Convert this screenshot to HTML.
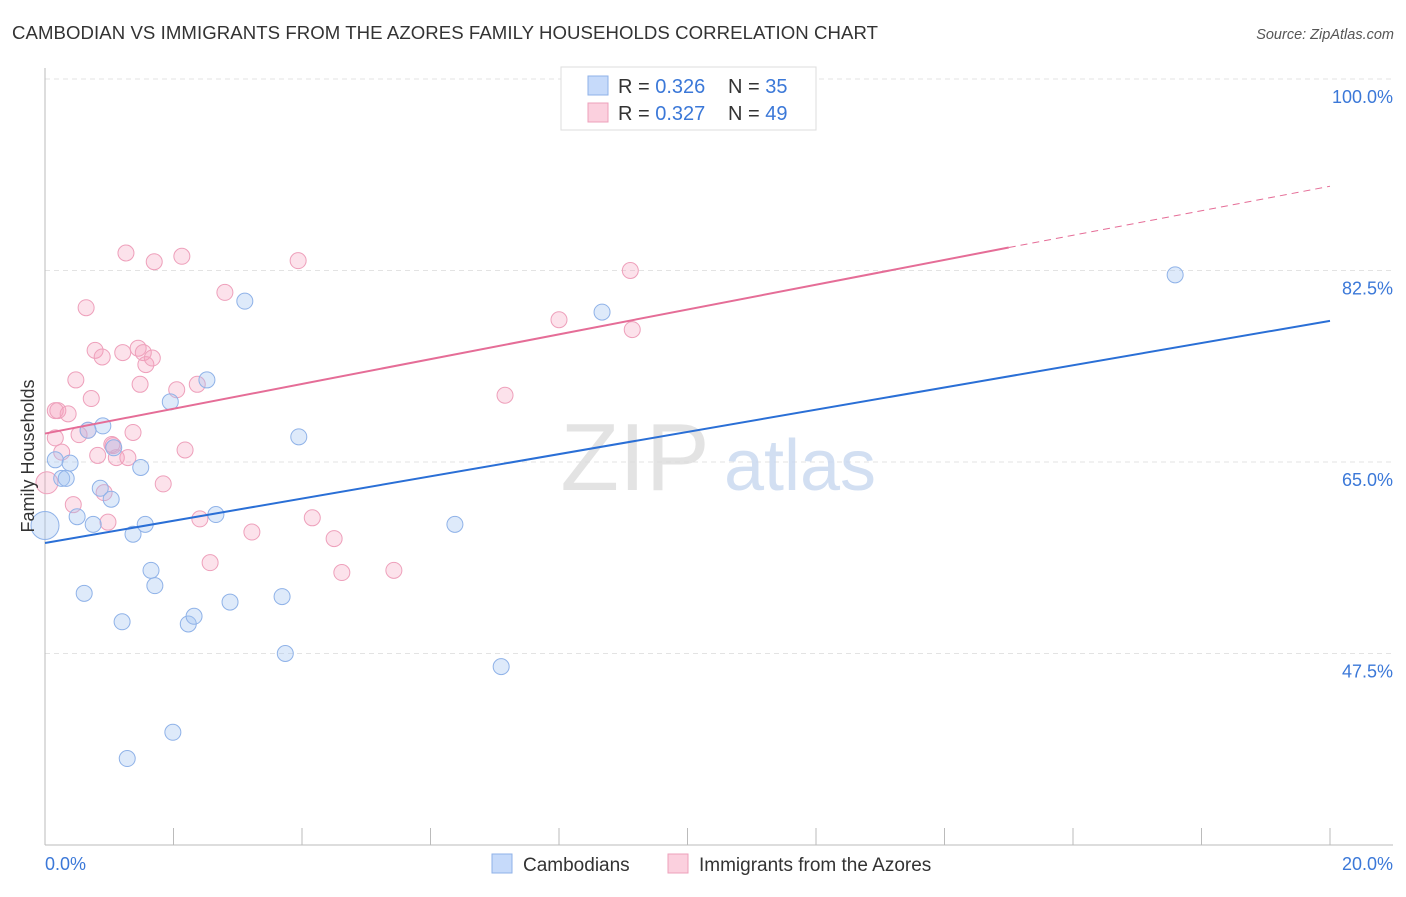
<!DOCTYPE html>
<html><head><meta charset="utf-8"><style>
body{margin:0;background:#fff;font-family:"Liberation Sans",sans-serif;}
svg text{font-family:"Liberation Sans",sans-serif;}
</style></head><body>
<svg id="chart" width="1406" height="892" viewBox="0 0 1406 892">
<text x="12" y="39" font-size="18.6" fill="#333" textLength="866">CAMBODIAN VS IMMIGRANTS FROM THE AZORES FAMILY HOUSEHOLDS CORRELATION CHART</text>
<text x="1394" y="39" font-size="14.5" fill="#555" font-style="italic" text-anchor="end">Source: ZipAtlas.com</text>
<g id="grid"></g>
<g>
<text x="635" y="490" font-size="96" fill="#ddd" font-family="Liberation Serif" text-anchor="middle" opacity="0.8">ZIP</text>
<text x="800" y="490" font-size="72" fill="#c8d8f0" text-anchor="middle" opacity="0.8">atlas</text>
</g>
<g id="points"></g>
<g id="lines"></g>
<text x="34" y="456" font-size="18" fill="#333" transform="rotate(-90 34 456)" text-anchor="middle">Family Households</text>
<text x="45" y="870" font-size="18" fill="#3b78d8">0.0%</text>
<text x="1393" y="870" font-size="18" fill="#3b78d8" text-anchor="end">20.0%</text>
<g>
<rect x="561" y="67" width="255" height="63" fill="#fff" stroke="#ddd"/>
<rect x="588" y="76" width="20" height="19" fill="#c6dafa" stroke="#8fb2e8"/>
<rect x="588" y="103" width="20" height="19" fill="#fbd0de" stroke="#eea0bb"/>
<text x="618" y="93" font-size="20" fill="#333">R = <tspan fill="#3b78d8">0.326</tspan></text>
<text x="728" y="93" font-size="20" fill="#333">N = <tspan fill="#3b78d8">35</tspan></text>
<text x="618" y="120" font-size="20" fill="#333">R = <tspan fill="#3b78d8">0.327</tspan></text>
<text x="728" y="120" font-size="20" fill="#333">N = <tspan fill="#3b78d8">49</tspan></text>
</g>
<g>
<rect x="492" y="854" width="20" height="19" fill="#c6dafa" stroke="#8fb2e8"/>
<text x="523" y="871" font-size="19" fill="#333">Cambodians</text>
<rect x="668" y="854" width="20" height="19" fill="#fbd0de" stroke="#eea0bb"/>
<text x="699" y="871" font-size="19" fill="#333">Immigrants from the Azores</text>
</g>
</svg>
<script>
const yTicks=[47.5,65.0,82.5,100.0];
const xTickVals=[0,2,4,6,8,10,12,14,16,18,20];
const blueX=[0.0,0.16,0.26,0.39,0.33,0.50,0.61,0.75,0.86,0.90,1.03,0.67,1.07,1.20,1.28,1.37,1.49,1.56,1.65,1.71,1.95,1.99,2.23,2.32,2.52,2.66,2.88,3.11,3.69,3.74,3.95,6.38,7.10,8.67,17.59];
const blueY=[59.2,65.2,63.5,64.9,63.5,60.0,53.0,59.3,62.6,68.3,61.6,67.9,66.3,50.4,37.9,58.4,64.5,59.3,55.1,53.7,70.5,40.3,50.2,50.9,72.5,60.2,52.2,79.7,52.7,47.5,67.3,59.3,46.3,78.7,82.1];
const pinkX=[0.03,0.16,0.16,0.20,0.26,0.36,0.44,0.48,0.53,0.64,0.67,0.72,0.78,0.82,0.89,0.92,0.98,1.06,1.11,1.21,1.26,1.29,1.37,1.48,1.45,1.53,1.57,1.67,1.70,1.84,2.05,2.13,2.18,2.37,2.41,2.57,2.80,3.22,3.94,4.16,4.50,4.62,5.43,7.16,8.00,9.11,9.14,11.05,1.04];
const pinkY=[63.1,69.7,67.2,69.7,65.9,69.4,61.1,72.5,67.5,79.1,67.9,70.8,75.2,65.6,74.6,62.2,59.5,66.5,65.4,75.0,84.1,65.4,67.7,72.1,75.4,75.0,73.9,74.5,83.3,63.0,71.6,83.8,66.1,72.1,59.8,55.8,80.5,58.6,83.4,59.9,58.0,54.9,55.1,71.1,78.0,82.5,77.1,99.9,66.6];
const blueLine=[57.6,77.9];
const pinkLine=[67.6,84.6,90.2];
const pinkLineX=[0,15,20];

const NS='http://www.w3.org/2000/svg';
const X0=45,X1=1330,Y0=845,YTOP=79;
const xs=v=>X0+(v/20)*(X1-X0);
const ys=v=>Y0-(v-30)/70*(Y0-YTOP);
function mk(tag,attrs,parent){const e=document.createElementNS(NS,tag);for(const k in attrs)e.setAttribute(k,attrs[k]);parent.appendChild(e);return e;}
const grid=document.getElementById('grid');
yTicks.forEach(t=>{
  const l=mk('line',{x1:X0,x2:1393,y1:ys(t),y2:ys(t),stroke:'#e3e3e3','stroke-dasharray':'5,4'},grid);
  
  
  const tx=mk('text',{x:1393,y:ys(t)+24,'font-size':18,fill:'#3b78d8','text-anchor':'end'},grid);
  tx.textContent=t.toFixed(1)+'%';
  
  
});
mk('line',{x1:X0,x2:X0,y1:68,y2:Y0,stroke:'#bbb'},grid);
mk('line',{x1:X0,x2:1393,y1:Y0,y2:Y0,stroke:'#bbb'},grid);
xTickVals.forEach(t=>{
  const l=mk('line',{x1:xs(t),x2:xs(t),y1:Y0,y2:Y0-17,stroke:'#bbb'},grid);
  
  
});
const pts=document.getElementById('points');
pinkX.forEach((v,i)=>{
  const c=mk('circle',{cx:xs(v),cy:ys(pinkY[i]),r:i==0?11:8,fill:'rgba(244,160,190,0.3)',stroke:'#eea0bb','stroke-width':1},pts);
  
  
});
blueX.forEach((v,i)=>{
  const c=mk('circle',{cx:xs(v),cy:ys(blueY[i]),r:i==0?14:8,fill:'rgba(160,195,240,0.35)',stroke:'#8fb2e8','stroke-width':1},pts);
  
  
});
const lines=document.getElementById('lines');
const bl=mk('line',{x1:xs(0),y1:ys(blueLine[0]),x2:xs(20),y2:ys(blueLine[1]),stroke:'#2a6fd6','stroke-width':2},lines);


const pl=mk('line',{x1:xs(pinkLineX[0]),y1:ys(pinkLine[0]),x2:xs(pinkLineX[1]),y2:ys(pinkLine[1]),stroke:'#e56d97','stroke-width':2},lines);


const pd=mk('line',{x1:xs(pinkLineX[1]),y1:ys(pinkLine[1]),x2:xs(pinkLineX[2]),y2:ys(pinkLine[2]),stroke:'#e56d97','stroke-width':1,'stroke-dasharray':'7,5'},lines);


</script>
</body></html>
